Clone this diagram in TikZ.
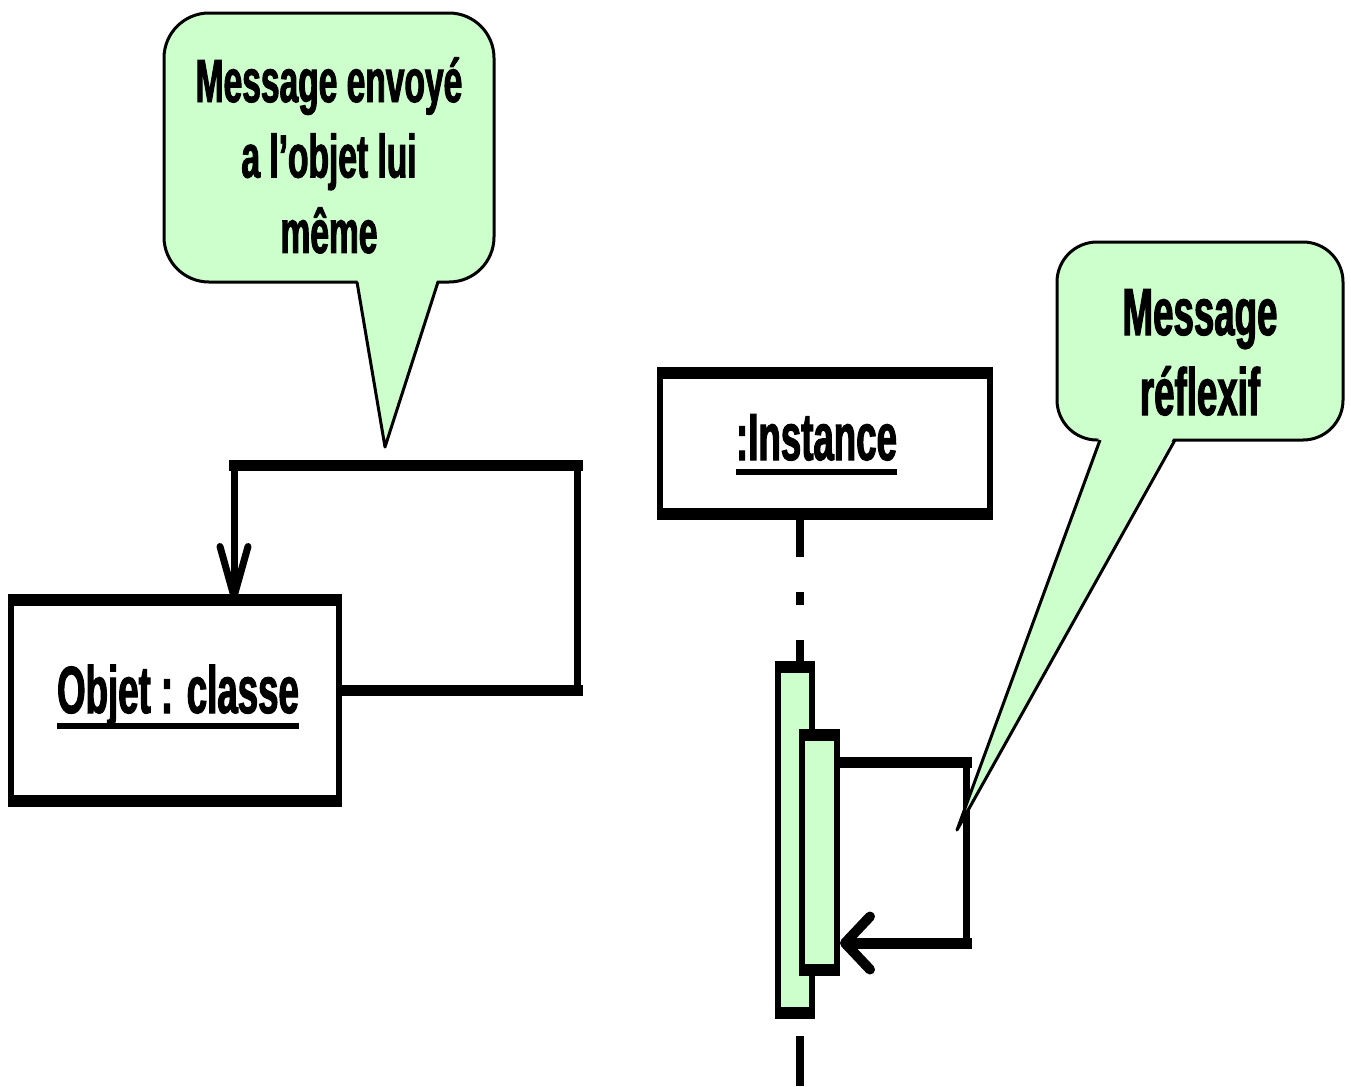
\documentclass[tikz,border=0pt]{standalone}
\usepackage{fontspec}
\newfontfamily\cond[FakeStretch=0.55,FakeBold=1.6]{Liberation Sans Bold}
\usetikzlibrary{arrows.meta,calc}
\definecolor{callgreen}{RGB}{204,255,204}
\pgfdeclarelayer{background}
\pgfsetlayers{background,main}
\begin{document}
\begin{tikzpicture}[x=0.75pt,y=-0.75pt,
  objbox/.style={draw,line width=4.5pt,inner sep=0},
  thickedge/.style={line width=9pt,line cap=butt},
  actbar/.style={draw,fill=callgreen,line width=4.5pt,inner sep=0},
  msg/.style={line width=5.25pt},
  msgbold/.style={line width=8.25pt,line cap=rect},
  bubble/.style={draw,fill=callgreen,line width=2.25pt,inner sep=0},
  bubbleedge/.style={line width=2.25pt,line join=round},
  bigtext/.style={font=\cond\fontsize{50pt}{60pt}\selectfont,inner sep=0},
  smalltext/.style={font=\cond\fontsize{45.75pt}{56.6pt}\selectfont,inner sep=0},
  uline/.style={line width=4.5pt},
  lifeline/.style={line width=6pt}]
\useasboundingbox (0,0) rectangle (1351,1086);

% ---- left: object with self message ----
\node[objbox,minimum width=246pt,minimum height=146.25pt] (obj) at (175,700.5) {};
\draw[thickedge] (obj.north west) -- (obj.north east);
\draw[thickedge] (obj.south west) -- (obj.south east);
\node[bigtext,anchor=base] (objtxt) at (178,713) {Objet : classe};
\draw[uline] ([yshift=-9.75pt]objtxt.base west) -- ([yshift=-9.75pt]objtxt.base east);

\coordinate (l1) at (577,690);
\coordinate (l2) at (577,465);
\coordinate (l3) at (234,465);
\draw[msg,-{Straight Barb[round,length=37.5pt,width=21pt,line width=5.25pt]}]
  (l1 -| obj.east) -- (l1) -- (l2) -- (l3) -- (l3 |- obj.north);
\draw[msgbold] (l1 -| obj.east) -- (l1);
\draw[msgbold] (l2) -- (l3);

% ---- right: instance with lifeline ----
\node[objbox,minimum width=247.5pt,minimum height=101.25pt] (inst) at (825,443.5) {};
\draw[thickedge] (inst.north west) -- (inst.north east);
\draw[thickedge] (inst.south west) -- (inst.south east);
\node[bigtext,anchor=base] (insttxt) at (816.5,460) {:Instance};
\draw[uline] ([yshift=-9pt]insttxt.base west) -- ([yshift=-9pt]insttxt.base east);

\node[actbar,minimum width=25.5pt,minimum height=255pt] (act) at (795,840) {};
\draw[thickedge] (act.north west) -- (act.north east);
\draw[thickedge] (act.south west) -- (act.south east);
\node[actbar,minimum width=26.25pt,minimum height=171.75pt] (act2) at (819.5,852.5) {};
\draw[thickedge] (act2.north west) -- (act2.north east);
\draw[thickedge] (act2.south west) -- (act2.south east);

\coordinate (ll) at (800,1086);
\begin{pgfonlayer}{background}
\draw[lifeline,dash pattern=on 32.25pt off 26.25pt on 9.75pt off 26.25pt]
  (ll |- inst.south) -- (ll |- act.north);
\draw[lifeline,dash pattern=on 60pt off 17.25pt,dash phase=60pt] (ll |- act.south) -- (ll);
\end{pgfonlayer}

\coordinate (r1) at (966,762);
\coordinate (r2) at (966,943);
\draw[msg,-{Straight Barb[round,length=18.75pt,width=39.75pt,line width=7.5pt]}]
  (r1 -| act2.east) -- (r1) -- (r2) -- (r2 -| act2.east);
\draw[msgbold] (r1 -| act2.east) -- (r1);
\draw[msgbold,shorten >=6pt] (r2) -- (r2 -| act2.east);

% ---- callouts ----
\node[bubble,rounded corners=33.75pt,minimum width=247.5pt,minimum height=201.75pt] (cL) at (329,147.5) {};
\fill[callgreen] (357,277) -- (385,447) -- (438,277) -- cycle;
\draw[bubbleedge] (357,282) -- (385,447) -- (438,282);
\node[smalltext,anchor=base] (cLtxt) at (329,102)
  {\begin{tabular}[t]{@{}c@{}}Message envoyé\\a l’objet lui\\même\end{tabular}};

\node[bubble,rounded corners=30pt,minimum width=214.5pt,minimum height=148.5pt] (cR) at (1200,341) {};
\fill[callgreen] (1100,435) -- (957,830) -- (1175,435) -- cycle;
\draw[bubbleedge] (1100,440) -- (957,830) -- (1175,440);
\node[bigtext,anchor=base] (cRtxt) at (1200,335)
  {\begin{tabular}[t]{@{}c@{}}Message\\réflexif\end{tabular}};
\end{tikzpicture}
\end{document}
